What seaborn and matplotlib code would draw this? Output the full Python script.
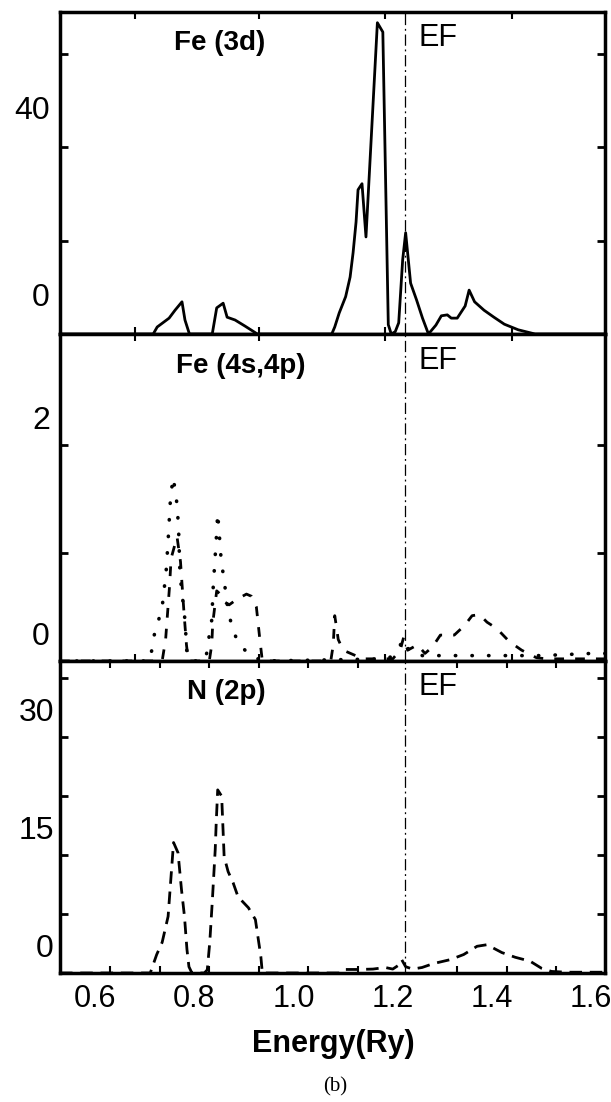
import matplotlib
matplotlib.use("Agg")
import numpy as np
import pandas as pd
import matplotlib.pyplot as plt
import seaborn as sns
from matplotlib.ticker import FixedLocator

sns.set_theme(style="white")
plt.rcParams['font.family'] = ['Liberation Sans', 'DejaVu Sans']

# Datos (energia en Ry, DOS)
e_fe3d = [0.529, 0.717, 0.725, 0.749, 0.761, 0.775, 0.781, 0.790, 0.836, 0.845, 0.858, 0.866,
          0.882, 0.902, 0.927, 1.077, 1.083, 1.092, 1.105, 1.114, 1.120, 1.126, 1.130, 1.138,
          1.146, 1.169, 1.180, 1.191, 1.197, 1.205, 1.212, 1.220, 1.226, 1.236, 1.248, 1.260,
          1.272, 1.287, 1.298, 1.310, 1.318, 1.330, 1.346, 1.354, 1.365, 1.384, 1.404, 1.425,
          1.453, 1.487, 1.628]
dos_fe3d = [0, 0, 1.5, 3.4, 5.1, 6.9, 3.0, 0, 0, 5.6, 6.6, 3.6,
            3.0, 1.7, 0, 0, 1.5, 4.5, 8.0, 12.2, 17.4, 24.0, 30.9, 32.2,
            20.8, 66.7, 64.7, 2.0, 0, 0.5, 2.4, 15.9, 21.7, 10.9, 7.3, 3.4,
            0, 1.9, 3.9, 4.1, 3.4, 3.4, 6.0, 9.4, 6.9, 5.1, 3.6, 2.1,
            0.9, 0, 0]

e_fe4s = [0.529, 0.710, 0.714, 0.719, 0.728, 0.736, 0.743, 0.745, 0.747, 0.749, 0.750, 0.753,
          0.757, 0.763, 0.766, 0.768, 0.771, 0.775, 0.781, 0.785, 0.792, 0.820, 0.826, 0.830,
          0.835, 0.838, 0.844, 0.847, 0.849, 0.852, 0.854, 0.859, 0.867, 0.874, 0.886, 0.911,
          0.940, 1.190, 1.205, 1.222, 1.235, 1.260, 1.300, 1.400, 1.500, 1.600, 1.628]
dos_fe4s = [0, 0, 0.10, 0.24, 0.38, 0.54, 0.83, 0.97, 1.12, 1.26, 1.40, 1.55,
            1.70, 1.54, 1.38, 1.24, 0.80, 0.63, 0.38, 0.07, 0, 0, 0.09, 0.24,
            0.38, 0.69, 1.12, 1.37, 1.24, 1.07, 0.93, 0.78, 0.50, 0.35, 0.19, 0.05,
            0, 0.02, 0.07, 0.20, 0.08, 0.05, 0.05, 0.05, 0.05, 0.07, 0.07]

e_fe4p = [0.529, 0.735, 0.742, 0.746, 0.750, 0.753, 0.765, 0.772, 0.776, 0.779, 0.784, 0.788,
          0.830, 0.835, 0.837, 0.845, 0.852, 0.860, 0.870, 0.885, 0.905, 0.915, 0.925, 0.932,
          0.937, 1.075, 1.080, 1.083, 1.087, 1.090, 1.100, 1.115, 1.140, 1.200, 1.215, 1.222,
          1.230, 1.250, 1.265, 1.280, 1.296, 1.324, 1.345, 1.360, 1.375, 1.390, 1.410, 1.435,
          1.460, 1.490, 1.510, 1.628]
dos_fe4p = [0, 0, 0.20, 0.45, 0.70, 0.95, 1.15, 0.92, 0.65, 0.45, 0.15, 0,
            0, 0.15, 0.35, 0.65, 0.62, 0.55, 0.52, 0.57, 0.62, 0.60, 0.50, 0.20,
            0, 0, 0.15, 0.42, 0.30, 0.20, 0.10, 0.07, 0.02, 0.02, 0.10, 0.22,
            0.10, 0.15, 0.07, 0.13, 0.24, 0.24, 0.33, 0.42, 0.43, 0.36, 0.30, 0.18,
            0.10, 0.03, 0.02, 0.02]

e_n2p = [0.529, 0.711, 0.724, 0.735, 0.747, 0.752, 0.758, 0.767, 0.774, 0.780, 0.785, 0.789,
         0.795, 0.820, 0.826, 0.831, 0.836, 0.842, 0.844, 0.847, 0.855, 0.860, 0.868, 0.878,
         0.888, 0.909, 0.923, 0.934, 0.937, 1.095, 1.105, 1.130, 1.160, 1.185, 1.200, 1.212,
         1.218, 1.226, 1.240, 1.259, 1.282, 1.316, 1.343, 1.370, 1.390, 1.420, 1.447, 1.477,
         1.500, 1.520, 1.550, 1.628]
dos_n2p = [0, 0, 2.35, 3.9, 7.2, 11.5, 16.6, 15.3, 10.6, 7.2, 3.0, 0.8,
           0, 0, 0.4, 3.9, 9.0, 15.7, 19.1, 23.3, 22.5, 14.8, 12.9, 11.5,
           9.7, 8.3, 6.8, 2.1, 0, 0, 0.45, 0.45, 0.5, 0.7, 0.5, 1.0,
           1.7, 0.8, 0.5, 0.7, 1.2, 1.7, 2.35, 3.4, 3.6, 2.6, 2.0, 1.5,
           0.6, 0.2, 0.1, 0.1]

ef = 1.225
x_ticks = [0.6, 0.8, 1.0, 1.2, 1.4, 1.6]

fig = plt.figure(figsize=(6.11, 11.02), dpi=100)
W, H = 611.0, 1102.0

def make_ax(top, bottom):
    return fig.add_axes([60 / W, 1 - bottom / H, 545 / W, (bottom - top) / H])

ax1 = make_ax(12, 334)
ax2 = make_ax(334, 661)
ax3 = make_ax(661, 973)

# Fe (3d)
df1 = pd.DataFrame({'E': e_fe3d, 'DOS': dos_fe3d})
sns.lineplot(x='E', y='DOS', data=df1, ax=ax1, color='black', lw=2.0, estimator=None, sort=False)

# Fe (4s,4p)
df2s = pd.DataFrame({'E': e_fe4s, 'DOS': dos_fe4s})
df2p = pd.DataFrame({'E': e_fe4p, 'DOS': dos_fe4p})
sns.lineplot(x='E', y='DOS', data=df2s, ax=ax2, color='black', lw=2.6, estimator=None, sort=False,
             linestyle=(0, (0.1, 4.5)), dash_capstyle='round')
sns.lineplot(x='E', y='DOS', data=df2p, ax=ax2, color='black', lw=2.0, estimator=None, sort=False,
             linestyle=(0, (3.5, 4)))

# N (2p)
df3 = pd.DataFrame({'E': e_n2p, 'DOS': dos_n2p})
sns.lineplot(x='E', y='DOS', data=df3, ax=ax3, color='black', lw=2.0, estimator=None, sort=False,
             linestyle=(0, (4.5, 2.8)))

# limites, ticks y etiquetas (las etiquetas del original estan desplazadas respecto a los ticks)
panels = [
    (ax1, 69.0, [0, 20, 40, 60], {0: '0', 40: '40'}, 36, 10, [0.68, 0.93, 1.185, 1.44]),
    (ax2, 3.03, [0, 1, 2], {0: '0', 2: '2'}, 24, 10, [0.68, 0.93, 1.185, 1.44]),
    (ax3, 39.7, [0, 7.5, 15, 22.5, 30, 37.5], {0: '0', 15: '15', 30: '30'}, 24, 6,
     [0.63, 0.73, 0.83, 0.93, 1.03, 1.13, 1.33, 1.43, 1.53]),
]
for ax, ytop, yt, ylab, dy, dx, xminor in panels:
    ax.set_xlim(0.529, 1.628)
    ax.set_ylim(0, ytop)
    ax.set_xlabel('')
    ax.set_ylabel('')
    ax.set_yticks(yt)
    ax.set_xticks(x_ticks)
    ax.xaxis.set_minor_locator(FixedLocator(xminor))
    ax.tick_params(axis='y', which='major', direction='in', length=6, width=2,
                   left=True, right=True, labelleft=False, color='black')
    ax.tick_params(axis='x', which='major', length=0, labelbottom=False, pad=8,
                   labelsize=22, labelcolor='black')
    ax.tick_params(axis='x', which='minor', direction='in', length=5, width=1.5,
                   bottom=True, top=True, color='black')
    for s in ax.spines.values():
        s.set_linewidth(2.5)
        s.set_color('black')
    for val, txt in ylab.items():
        ax.annotate(txt, xy=(0, val), xycoords=('axes fraction', 'data'),
                    xytext=(-dx * 0.72, dy * 0.72), textcoords='offset points',
                    ha='right', va='center', fontsize=23, color='black')
    ax.axvline(ef, color='black', lw=0.9, linestyle=(0, (9, 3, 1.5, 3)))

ax3.tick_params(axis='x', which='major', labelbottom=True)

# textos
def ftext(x, y, s, **kw):
    fig.text(x / W, 1 - y / H, s, ha='center', va='center', color='black', **kw)

ftext(220, 43, 'Fe (3d)', fontsize=20, fontweight='bold')
ftext(241, 366, 'Fe (4s,4p)', fontsize=20, fontweight='bold')
ftext(226, 692, 'N (2p)', fontsize=20, fontweight='bold')
for yy in [38, 361, 687]:
    ftext(438, yy, 'EF', fontsize=22)
ftext(333, 1044, 'Energy(Ry)', fontsize=22, fontweight='bold')
ftext(335, 1087, '(b)', fontsize=15, family='Liberation Serif')

plt.savefig('out.png', dpi=100)
